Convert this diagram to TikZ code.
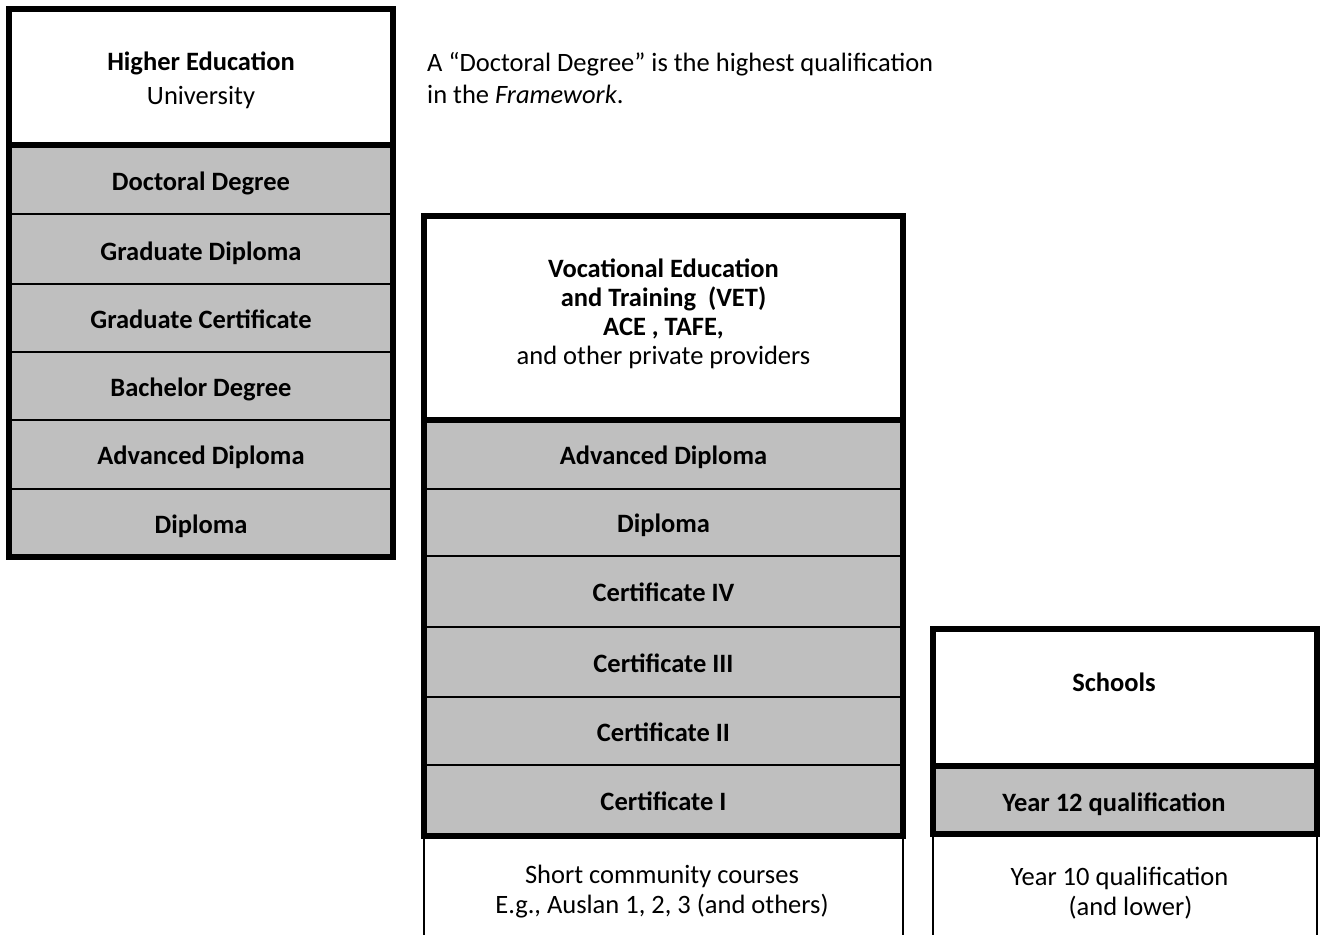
\documentclass[tikz,border=0pt]{standalone}
\usepackage{fontspec}
\setmainfont{Carlito}
\definecolor{cellgray}{RGB}{191,191,191}
\newcommand{\fsz}{\fontsize{26.5}{29}\selectfont}
\newcommand{\fszb}{\fontsize{26.5}{30}\selectfont}
\newcommand{\fszc}{\fontsize{26.5}{32}\selectfont}
\begin{document}
\begin{tikzpicture}[x=1pt,y=-1pt,
  cell/.style={draw=black, line width=1.5pt, fill=cellgray, inner sep=0pt, outer sep=0pt, font=\fsz\bfseries, align=center, text height=20pt, text depth=0pt},
  headcell/.style={fill=white, inner sep=0pt, outer sep=0pt},
  txt/.style={inner sep=0pt, align=center, font=\fsz},
  frame/.style={draw=black, line width=6pt},
  openline/.style={draw=black, line width=1.5pt}]
\useasboundingbox[fill=white] (0,0) rectangle (1320,935);

% ---------- Higher Education ----------
\node[headcell, minimum width=384, minimum height=136] (hhead) at (201,77) {};
\node[txt] (hheadtxt) at (201,80.5) {\textbf{Higher Education}\\[5pt]University};
\node[cell, minimum width=384, minimum height=68] (hdoc) at (201,180) {Doctoral Degree};
\node[cell, minimum width=384, minimum height=71] (hgdip) at (201,250) {Graduate Diploma};
\node[cell, minimum width=384, minimum height=68] (hgcert) at (201,318) {Graduate Certificate};
\node[cell, minimum width=384, minimum height=68] (hbach) at (201,386) {Bachelor Degree};
\node[cell, minimum width=384, minimum height=69] (hadv) at (201,454.5) {Advanced Diploma};
\node[cell, minimum width=384, minimum height=68] (hdip) at (201,523) {Diploma};
\draw[frame] (9,9) rectangle (393,557);
\draw[frame] (hhead.south west) -- (hhead.south east);

% ---------- note ----------
\node[txt, font=\fszc, align=left, anchor=west] (note) at (427,78) {A “Doctoral Degree” is the highest qualification\\in the \textit{Framework}.};

% ---------- VET ----------
\node[headcell, minimum width=479, minimum height=204] (vhead) at (663.5,318) {};
\node[txt] (vheadtxt) at (663.5,314) {\textbf{Vocational Education}\\\textbf{and Training~ (VET)}\\\textbf{ACE , TAFE,}\\and other private providers};
\node[cell, minimum width=479, minimum height=69] (vadv) at (663.5,454.5) {Advanced Diploma};
\node[cell, minimum width=479, minimum height=67] (vdip) at (663.5,522.5) {Diploma};
\node[cell, minimum width=479, minimum height=71] (vc4) at (663.5,591.5) {Certificate IV};
\node[cell, minimum width=479, minimum height=70] (vc3) at (663.5,662) {Certificate III};
\node[cell, minimum width=479, minimum height=68] (vc2) at (663.5,731) {Certificate II};
\node[cell, minimum width=479, minimum height=71] (vc1) at (663.5,800.5) {Certificate I};
\draw[frame] (424,216) rectangle (903,836);
\draw[frame] (vhead.south west) -- (vhead.south east);
\coordinate (vbl) at (424,935);
\coordinate (vbr) at (903,935);
\draw[openline] (vc1.south west) -- (vbl);
\draw[openline] (vc1.south east) -- (vbr);
\node[txt, font=\fszb] (vshort) at (662,891.5) {Short community courses\\E.g., Auslan 1, 2, 3 (and others)};

% ---------- Schools ----------
\node[headcell, minimum width=384, minimum height=137] (shead) at (1125,697.5) {};
\node[txt, font=\fsz\bfseries] (sheadtxt) at (1114,682) {Schools};
\node[cell, minimum width=384, minimum height=68] (sy12) at (1125,800) {};
\node[txt, font=\fsz\bfseries] (sy12txt) at (1114,804) {Year 12 qualification};
\draw[frame] (933,629) rectangle (1317,834);
\draw[frame] (shead.south west) -- (shead.south east);
\coordinate (sbl) at (933,935);
\coordinate (sbr) at (1317,935);
\draw[openline] (sy12.south west) -- (sbl);
\draw[openline] (sy12.south east) -- (sbr);
\node[txt, font=\fszb] (sy10) at (1119.5,893) {Year 10 qualification\\\hspace*{22pt}(and lower)};
\end{tikzpicture}
\end{document}
